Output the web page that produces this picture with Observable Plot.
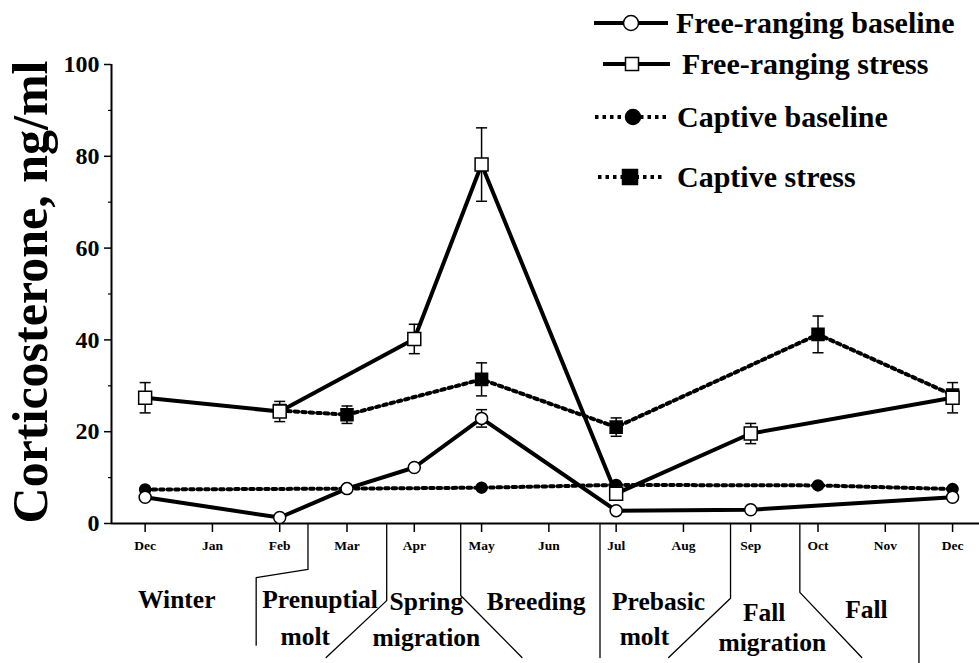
<!DOCTYPE html>
<html><head><meta charset="utf-8">
<script src="https://cdn.jsdelivr.net/npm/d3@7"></script>
<script src="https://cdn.jsdelivr.net/npm/@observablehq/plot@0.6"></script>
<style>
body{margin:0;background:#fff;}
#wrap{position:relative;width:979px;height:663px;overflow:hidden;}
#legend{position:absolute;left:0;top:0;}
</style></head><body><div id="wrap"></div>
<script>
// ---- data ----
const months = ["Dec","Jan","Feb","Mar","Apr","May","Jun","Jul","Aug","Sep","Oct","Nov","Dec"];
// month index (0 = first Dec ... 12 = last Dec)
const frBaseMonths   = [0, 2, 3, 4, 5, 7, 9, 12];
const frBaseValues   = [5.7, 1.3, 7.6, 12.2, 22.9, 2.8, 3.0, 5.7];
const frBaseErr      = [0, 0, 0, 0, 1.9, 0, 0, 0];
const frStressMonths = [0, 2, 4, 5, 7, 9, 12];
const frStressValues = [27.4, 24.4, 40.2, 78.2, 6.5, 19.6, 27.4];
const frStressErr    = [3.3, 2.2, 3.2, 8.0, 0, 2.2, 3.3];
const capBaseMonths  = [0, 3, 5, 7, 10, 12];
const capBaseValues  = [7.4, 7.6, 7.8, 8.4, 8.3, 7.5];
const capStressMonths = [2, 3, 5, 7, 10, 12];
const capStressValues = [24.6, 23.7, 31.4, 21.0, 41.2, 28.0];
const capStressErr    = [0, 1.9, 3.6, 2.0, 4.0, 0];
const yMajorTicks = [0, 20, 40, 60, 80, 100];
const yMinorTicks = [10, 30, 50, 70, 90];
const seasonWords = ["Winter","Prenuptial","molt","Spring","migration","Breeding","Prebasic","molt","Fall","migration","Fall"];
const legendLabels = ["Free-ranging baseline","Free-ranging stress","Captive baseline","Captive stress"];
const yTitle = "Corticosterone, ng/ml";

// ---- layout (annotation placement in data units) ----
const seasonAt = [[0.47,-16.6],[2.6,-16.6],[2.38,-24.7],[4.18,-17.0],[4.18,-24.9],[5.81,-17.0],[7.63,-17.0],[7.42,-24.7],[9.2,-19.4],[9.32,-26.0],[10.72,-18.7]];
const dividers = [
  [[2.42,0],[2.42,-10.0],[1.65,-11.8],[1.65,-26.5]],
  [[3.59,0],[3.59,-16.8],[2.69,-29.2]],
  [[4.69,0],[4.69,-15.7],[5.6,-29.2]],
  [[6.76,0],[6.76,-29.2]],
  [[8.70,0],[8.70,-16.3],[7.78,-29.2]],
  [[9.73,0],[9.73,-15.0],[10.65,-29.2]],
  [[11.5,0],[11.5,-31]]
];
const xDomain = [-0.5, 12.4];

// ---- build tables ----
const mk = (ms, vs, es) => ms.map((m, i) => ({m, v: vs[i], e: es ? es[i] : 0}));
const frBase = mk(frBaseMonths, frBaseValues, frBaseErr);
const frStress = mk(frStressMonths, frStressValues, frStressErr);
const capBase = mk(capBaseMonths, capBaseValues);
const capStress = mk(capStressMonths, capStressValues, capStressErr);
const errs = [...frBase, ...frStress, ...capStress].filter(d => d.e > 0)
  .map(d => ({m: d.m, lo: d.v - d.e, hi: d.v + d.e}));
const capEnds = errs.flatMap(d => [{m: d.m, y: d.lo}, {m: d.m, y: d.hi}]);
const seasonText = seasonWords.map((t, i) => ({t, x: seasonAt[i][0], y: seasonAt[i][1]}));
const dividerPts = dividers.flatMap((pts, k) => pts.map(([x, y]) => ({k, x, y})));

const capSymbol = {draw(ctx, size) { const w = Math.sqrt(size / Math.PI); ctx.moveTo(-w, 0); ctx.lineTo(w, 0); }};
const dotted = {strokeDasharray: "3.5,4", strokeWidth: 4};

const plot = Plot.plot({
  width: 979, height: 663,
  marginLeft: 111, marginRight: 0, marginTop: 64, marginBottom: 140,
  style: {fontFamily: "'Liberation Serif','Times New Roman',serif", fontWeight: "bold", background: "white", overflow: "visible", color: "black"},
  x: {domain: xDomain, axis: null},
  y: {domain: [0, 100], axis: null},
  marks: [
    Plot.axisX(d3.range(months.length), {tickFormat: i => months[i], tickSize: 9, tickPadding: 8, fontSize: 13.5, label: null, strokeWidth: 1.5}),
    Plot.axisY(yMajorTicks, {tickSize: 7, tickPadding: 5, fontSize: 24, label: null, strokeWidth: 1.5}),
    Plot.axisY(yMinorTicks, {tickSize: 3, tickFormat: () => "", label: null, strokeWidth: 1.2}),
    Plot.ruleX([xDomain[0]], {strokeWidth: 2}),
    Plot.ruleY([0], {strokeWidth: 2}),
    Plot.text([yTitle], {frameAnchor: "left", textAnchor: "middle", rotate: -90, dx: -81, dy: -2, fontSize: 50, fontWeight: "bold"}),
    Plot.line(dividerPts, {x: "x", y: "y", z: "k", stroke: "black", strokeWidth: 1.3}),
    Plot.text(seasonText, {x: "x", y: "y", text: "t", fontSize: 25.5}),
    Plot.line(frBase, {x: "m", y: "v", stroke: "black", strokeWidth: 4}),
    Plot.line(frStress, {x: "m", y: "v", stroke: "black", strokeWidth: 4}),
    Plot.line(capBase, {x: "m", y: "v", stroke: "black", ...dotted}),
    Plot.line(capStress, {x: "m", y: "v", stroke: "black", ...dotted}),
    Plot.ruleX(errs, {x: "m", y1: "lo", y2: "hi", stroke: "black", strokeWidth: 1.5}),
    Plot.dot(capEnds, {x: "m", y: "y", symbol: capSymbol, r: 5.5, stroke: "black", strokeWidth: 1.5, fill: "none"}),
    Plot.dot(capBase, {x: "m", y: "v", symbol: "circle", r: 5.5, fill: "black", stroke: "black"}),
    Plot.dot(capStress, {x: "m", y: "v", symbol: "square", r: 6.8, fill: "black", stroke: "black"}),
    Plot.dot(frBase, {x: "m", y: "v", symbol: "circle", r: 6, fill: "white", stroke: "black", strokeWidth: 1.5}),
    Plot.dot(frStress, {x: "m", y: "v", symbol: "square", r: 7.3, fill: "white", stroke: "black", strokeWidth: 1.5})
  ]
});
const wrap = document.getElementById("wrap");
wrap.appendChild(plot);

// ---- legend ----
const legendRows = [
  {y: 23, x1: 594, x2: 668, mx: 631, text: 676, dashed: false, sym: "circle", fill: "white", size: 7.5},
  {y: 64, x1: 603, x2: 670, mx: 632, text: 682, dashed: false, sym: "square", fill: "white", size: 13},
  {y: 117, x1: 595, x2: 668, mx: 633, text: 677, dashed: true, sym: "circle", fill: "black", size: 7.5},
  {y: 177, x1: 598, x2: 663, mx: 630, text: 677, dashed: true, sym: "square", fill: "black", size: 15}
];
const svg = d3.select(wrap).append("svg").attr("id", "legend").attr("width", 979).attr("height", 200)
  .style("font-family", "'Liberation Serif','Times New Roman',serif").style("font-weight", "bold");
legendRows.forEach((r, i) => {
  const g = svg.append("g");
  g.append("line").attr("x1", r.x1).attr("x2", r.x2).attr("y1", r.y).attr("y2", r.y)
    .attr("stroke", "black").attr("stroke-width", r.dashed ? 4 : 4)
    .attr("stroke-dasharray", r.dashed ? "3.5,4" : null);
  if (r.sym === "circle") {
    g.append("circle").attr("cx", r.mx).attr("cy", r.y).attr("r", r.size)
      .attr("fill", r.fill).attr("stroke", "black").attr("stroke-width", 1.5);
  } else {
    g.append("rect").attr("x", r.mx - r.size / 2).attr("y", r.y - r.size / 2).attr("width", r.size).attr("height", r.size)
      .attr("fill", r.fill).attr("stroke", "black").attr("stroke-width", 1.5);
  }
  g.append("text").attr("x", r.text).attr("y", r.y + 10).attr("font-size", 30).attr("fill", "black").text(legendLabels[i]);
});
</script></body></html>
